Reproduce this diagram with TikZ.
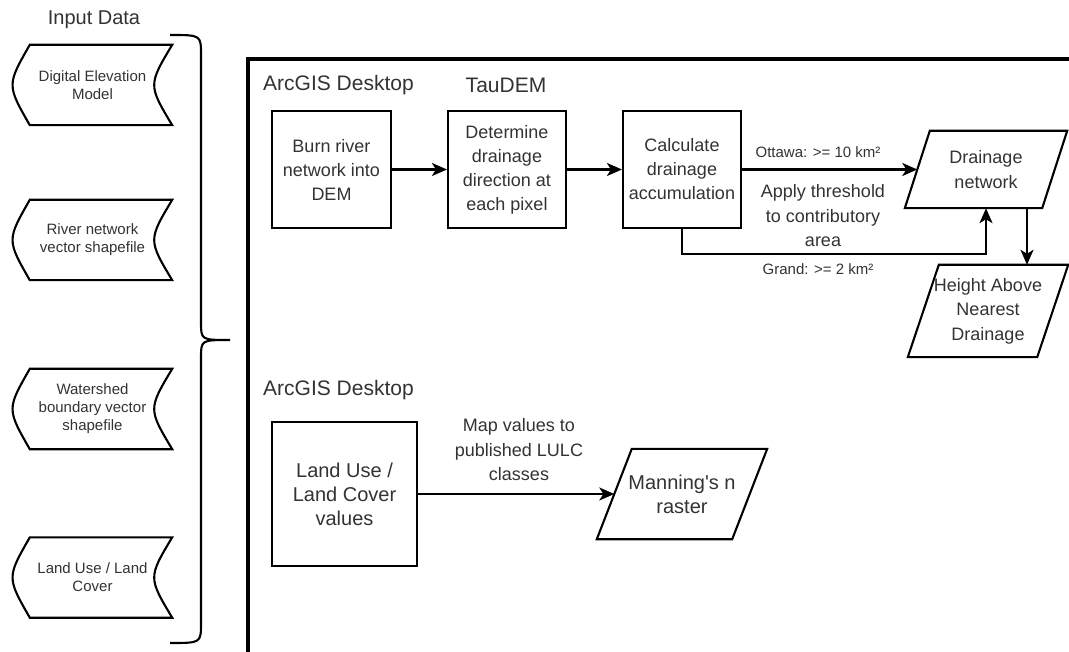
\documentclass[tikz,border=0pt]{standalone}
\usepackage{fontspec}
\setmainfont{Liberation Sans}[Ligatures=TeXOff]
\usetikzlibrary{arrows.meta}

% outline of a stored-data symbol around a named node
\newcommand\storeoutline[1]{%
  \draw[shapeline] (#1.north east)
    .. controls ([xshift=-24pt]#1.east) .. (#1.south east)
    -- ([xshift=17pt]#1.south west)
    .. controls ([xshift=-6pt]#1.west) .. ([xshift=17pt]#1.north west)
    -- cycle;}
% outline of a slanted data symbol around a named node
\newcommand\leanoutline[2]{%
  \draw[shapeline] ([xshift=#2]#1.north west) -- (#1.north east)
    -- ([xshift=-#2]#1.south east) -- (#1.south west) -- cycle;}

\begin{document}
\begin{tikzpicture}[x=1pt,y=-1pt,
  txt/.style={text=black!80, inner sep=0pt, align=center},
  shapeline/.style={draw=black, line width=2.1pt, line join=miter},
  proc/.style={txt, draw=black, line width=2.1pt,
    font=\fontsize{18}{24}\selectfont},
  store/.style={txt, font=\fontsize{15}{18}\selectfont,
    minimum width=159pt, minimum height=80pt},
  lean/.style={txt, font=\fontsize{18}{24.5}\selectfont},
  title/.style={txt, font=\fontsize{21}{25}\selectfont},
  small/.style={txt, font=\fontsize{15}{18}\selectfont},
  note/.style={txt, font=\fontsize{18}{24.5}\selectfont},
  arr/.style={draw=black, line width=2.1pt,
    -{Stealth[length=15pt,width=13pt,inset=4pt]}}]

\clip (0,0) rectangle (1069,652);
\fill[white] (0,0) rectangle (1069,652);

% ---- input data column ----
\node[txt, font=\fontsize{20}{24}\selectfont] (inlab) at (94,20) {Input Data};

\node[store] (dem) at (92.5,85) {Digital Elevation\\Model};
\node[store] (riv) at (92.5,240) {River network\\vector shapefile};
\node[store] (wsh) at (92.5,409) {Watershed\\boundary vector\\shapefile};
\node[store] (lulc) at (92.5,577.5) {Land Use / Land\\Cover};
\storeoutline{dem}
\storeoutline{riv}
\storeoutline{wsh}
\storeoutline{lulc}

% curly brace gathering the inputs
\draw[line width=2.1pt]
  (170,35) .. controls (201,35) .. (201,55) -- (201,322)
  .. controls (201,340) .. (230,340)
  .. controls (201,340) .. (201,358) -- (201,623)
  .. controls (201,643) .. (170,643);

% ---- processing frame ----
\draw[line width=3.4pt] (1090,59) -- (248,59) -- (248,680);

\node[title, anchor=west] (arc1) at (263,85) {ArcGIS Desktop};
\node[title] (tau) at (506,85) {TauDEM};
\node[title, anchor=west] (arc2) at (263,390) {ArcGIS Desktop};

% top workflow
\node[proc, minimum width=119pt, minimum height=117pt] (burn) at (331.5,169.5)
  {Burn river\\network into\\DEM};
\node[proc, minimum width=118pt, minimum height=117pt] (det) at (507,169.5)
  {Determine\\drainage\\direction at\\each pixel};
\node[proc, minimum width=118pt, minimum height=117pt] (calc) at (682,169.5)
  {Calculate\\drainage\\accumulation};

\node[lean, minimum width=162pt, minimum height=77pt] (drain) at (986,169.5)
  {Drainage\\network};
\leanoutline{drain}{25pt}
\node[lean, minimum width=160pt, minimum height=92pt] (hand) at (988,311)
  {Height Above\\Nearest\\Drainage};
\leanoutline{hand}{31pt}

\draw[arr] (burn.east) -- (det.west);
\draw[arr] (det.east) -- (calc.west);
\draw[arr] (calc.east) -- ([xshift=12.5pt]drain.west);
\node[small] (ott) at (818,152) {Ottawa: >= 10 km²};
\node[note] (thr) at (823,216) {Apply threshold\\to contributory\\area};
\draw[arr] (calc.south) -- ++(0,25) -| (drain.south);
\node[small] (grd) at (818,269) {Grand: >= 2 km²};

\coordinate (dnout) at ([xshift=41pt]drain.south);
\draw[arr] (dnout) -- (dnout |- hand.north);

% bottom workflow
\node[proc, minimum width=145pt, minimum height=144pt,
  font=\fontsize{20}{24}\selectfont] (land) at (344.5,494)
  {Land Use /\\Land Cover\\values};
\node[lean, minimum width=170pt, minimum height=90pt,
  font=\fontsize{20}{24}\selectfont] (man) at (682,494)
  {Manning's n\\raster};
\leanoutline{man}{35pt}
\draw[arr] (land.east) -- ([xshift=17.5pt]man.west);
\node[note] (map) at (519,450) {Map values to\\published LULC\\classes};

\end{tikzpicture}
\end{document}
